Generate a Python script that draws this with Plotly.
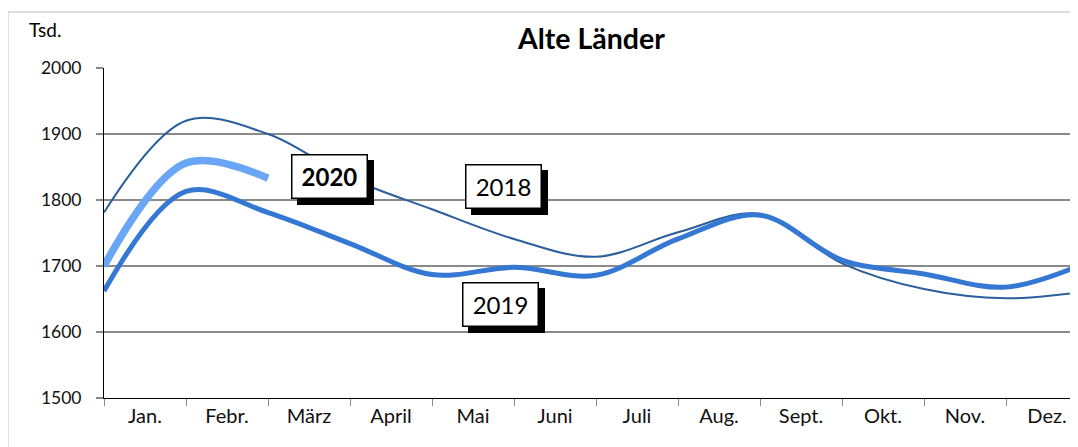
import plotly.graph_objects as go

# ---- data ----
months = ["Jan.", "Febr.", "März", "April", "Mai", "Juni", "Juli", "Aug.", "Sept.", "Okt.", "Nov.", "Dez."]
positions = list(range(13))  # data points sit on the category boundaries
values_2018 = [1781, 1920, 1900, 1833, 1786, 1741, 1714, 1751, 1779, 1704, 1665, 1651, 1662]
values_2019 = [1662, 1813, 1781, 1734, 1687, 1698, 1686, 1741, 1777, 1709, 1688, 1668, 1706]
values_2020 = [1700, 1856, 1833]
y_ticks = [1500, 1600, 1700, 1800, 1900, 2000]

FONT = "Lato"

fig = go.Figure()
fig.add_trace(go.Scatter(x=positions, y=values_2018, mode="lines", name="2018",
                         line=dict(color="#2B5E9C", width=2, shape="spline", smoothing=1.0)))
fig.add_trace(go.Scatter(x=positions, y=values_2019, mode="lines", name="2019",
                         line=dict(color="#3578D3", width=5, shape="spline", smoothing=1.0)))
fig.add_trace(go.Scatter(x=positions[:len(values_2020)], y=values_2020, mode="lines", name="2020",
                         line=dict(color="#69A7F6", width=7.5, shape="spline", smoothing=1.0)))

# boxed series labels with drop shadow
labels = [("2020", 2.75, 1836, True), ("2018", 4.87, 1821, False), ("2019", 4.84, 1642, False)]
for txt, xx, yy, bold in labels:
    fig.add_annotation(x=xx, y=yy, xref="x", yref="y", text="", showarrow=False,
                       width=72, height=40, bgcolor="black", bordercolor="black", borderwidth=1.5,
                       borderpad=1, xshift=6, yshift=-6)
    fig.add_annotation(x=xx, y=yy, xref="x", yref="y",
                       text=f"<b>{txt}</b>" if bold else txt, showarrow=False,
                       font=dict(family=FONT, size=24, color="black"),
                       width=72, height=40, bgcolor="white", bordercolor="black", borderwidth=1.5,
                       borderpad=1)

# title and unit
fig.add_annotation(x=0.5, y=1.091, xref="paper", yref="paper", text="<b>Alte Länder</b>",
                   showarrow=False, font=dict(family=FONT, size=28.5, color="black"),
                   xanchor="center", yanchor="middle")
fig.add_annotation(x=-0.079, y=1.118, xref="paper", yref="paper", text="Tsd.",
                   showarrow=False, font=dict(family=FONT, size=19, color="black"),
                   xanchor="left", yanchor="middle")

# outer chart frame
fig.add_shape(type="rect", xref="paper", yref="paper", x0=-0.0986, x1=1.5, y0=-0.5, y1=1.1697,
              line=dict(color="#BFBFBF", width=1), layer="below")

# the page adds an 8px body margin, so the figure is 8px smaller and its margins 8px tighter
fig.update_layout(
    width=1070, height=439,
    margin=dict(l=96, r=0, t=60, b=49),
    paper_bgcolor="white", plot_bgcolor="white",
    showlegend=False,
    font=dict(family=FONT, color="black"),
    xaxis=dict(
        range=[0, 974 / 82], tickmode="array",
        tickvals=[i + 0.5 for i in range(len(months))], ticktext=months,
        ticks="", showgrid=False, zeroline=False,
        showline=True, linecolor="black", linewidth=1,
        tickfont=dict(family=FONT, size=20, color="#111"),
        minor=dict(tickmode="array", tickvals=list(range(12)), ticks="outside",
                   ticklen=7, tickcolor="#8a8a8a", tickwidth=1, showgrid=False),
    ),
    yaxis=dict(
        range=[1500, 2000], tickmode="array", tickvals=y_ticks,
        ticks="outside", ticklen=7, tickcolor="#8a8a8a", tickwidth=1.5,
        showgrid=True, gridcolor="#8a8a8a", gridwidth=1.5,
        zeroline=False, showline=True, linecolor="black", linewidth=1,
        tickfont=dict(family=FONT, size=17.5, color="#111"),
        ticklabelstandoff=11,
    ),
)

fig.write_html("out.html")
